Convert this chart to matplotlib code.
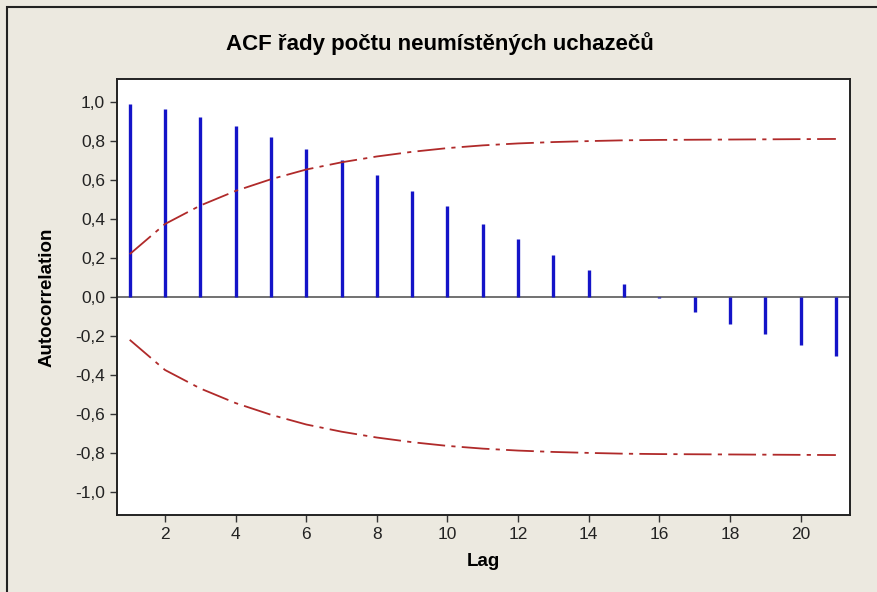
import numpy as np
import matplotlib
matplotlib.use("Agg")
import matplotlib.pyplot as plt
from matplotlib.patches import Rectangle

# === DATA ===
lags = list(range(1, 22))
acf = [0.99, 0.966, 0.925, 0.879, 0.823, 0.761, 0.705, 0.626, 0.546, 0.465,
       0.377, 0.300, 0.214, 0.137, 0.065, -0.004, -0.075, -0.138, -0.192,
       -0.248, -0.303]
limit = [0.22, 0.375, 0.47, 0.545, 0.605, 0.655, 0.692, 0.722, 0.746, 0.765,
         0.779, 0.789, 0.796, 0.801, 0.805, 0.807, 0.808, 0.809, 0.810,
         0.811, 0.812]
yticks = [1.0, 0.8, 0.6, 0.4, 0.2, 0.0, -0.2, -0.4, -0.6, -0.8, -1.0]
xticks = [2, 4, 6, 8, 10, 12, 14, 16, 18, 20]

BG = "#ECE9E0"
BAR = "#1414C8"
RED = "#B02A2A"
FONT = ["Liberation Sans", "DejaVu Sans"]

plt.rcParams.update({"font.family": FONT, "lines.scale_dashes": False})

fig = plt.figure(figsize=(8.78, 5.92), dpi=100, facecolor=BG)
fig.patches.append(Rectangle((7 / 878, -0.01), 1.0, 1 - 7 / 592 + 0.01,
                             transform=fig.transFigure, fill=False,
                             edgecolor="#222222", linewidth=1.5))

ax = fig.add_axes([117 / 878, 1 - 515 / 592, (850 - 117) / 878, (515 - 79) / 592])
ax.set_facecolor("white")

ax.axhline(0, color="#666666", linewidth=1.3, zorder=1)
ax.vlines(lags, 0, acf, color=BAR, linewidth=2.4, zorder=2)

dash = (0, (20, 4.5, 3, 4.5))
ax.plot(lags, limit, color=RED, linewidth=1.3, linestyle=dash, zorder=3)
ax.plot(lags, [-v for v in limit], color=RED, linewidth=1.3, linestyle=dash, zorder=3)

ax.set_xlim(0.64, 21.4)
ax.set_ylim(-1.12, 1.12)
ax.set_xticks(xticks)
ax.set_yticks(yticks)
ax.set_yticklabels([f"{v:.1f}".replace(".", ",").replace("-0,0", "0,0") for v in yticks])
ax.tick_params(direction="out", length=5, width=1, colors="#333333",
               labelcolor="#222222", labelsize=12.5)

for s in ax.spines.values():
    s.set_color("#222222")
    s.set_linewidth(1.4)

fig.text(440 / 878, 1 - 44 / 592, "ACF řady počtu neumístěných uchazečů",
         fontsize=16, fontweight="bold", ha="center", va="center")
ax.set_xlabel("Lag", fontsize=13.5, fontweight="bold", labelpad=8)
ax.set_ylabel("Autocorrelation", fontsize=13.5, fontweight="bold", labelpad=14)

fig.savefig("out.png", dpi=100, facecolor=BG)
